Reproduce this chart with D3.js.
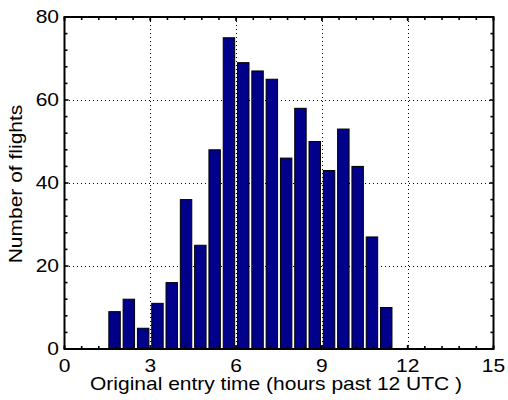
<!DOCTYPE html>
<html>
<head>
<meta charset="utf-8">
<script src="https://cdn.jsdelivr.net/npm/d3@7/dist/d3.min.js"></script>
<style>
  html, body { margin: 0; padding: 0; background: #fff; }
  svg { display: block; }
  text { font-family: "Liberation Sans", Arial, Helvetica, sans-serif; fill: #000; }
</style>
</head>
<body>
<svg id="chart" width="508" height="400"></svg>
<script>
// ---- data ----
const binCenters = [1.75, 2.25, 2.75, 3.25, 3.75, 4.25, 4.75, 5.25, 5.75, 6.25,
                    6.75, 7.25, 7.75, 8.25, 8.75, 9.25, 9.75, 10.25, 10.75, 11.25];
const counts = [9, 12, 5, 11, 16, 36, 25, 48, 75, 69,
                67, 65, 46, 58, 50, 43, 53, 44, 27, 10];
const xTicks = [0, 3, 6, 9, 12, 15];
const yTicks = [0, 20, 40, 60, 80];
const xLabel = "Original entry time (hours past 12 UTC )";
const yLabel = "Number of flights";

// ---- layout ----
const L = 64.5, R = 493.5, T = 17, B = 349;
const binWidth = 0.5, barFrac = 0.8;
const fs = 17.5, sx = 1.2;

const svg = d3.select("#chart");
const x = d3.scaleLinear().domain([0, 15]).range([L, R]);
const y = d3.scaleLinear().domain([0, 80]).range([B, T]);
const px = v => Math.round(v) + 0.5;

// grid
const grid = svg.append("g").attr("stroke", "#000").attr("stroke-width", 1)
  .attr("stroke-dasharray", "1,3").attr("fill", "none")
  .attr("shape-rendering", "crispEdges");
xTicks.slice(1, -1).forEach(t => {
  grid.append("line").attr("x1", px(x(t))).attr("x2", px(x(t))).attr("y1", T).attr("y2", B);
});
yTicks.slice(1, -1).forEach(t => {
  grid.append("line").attr("x1", L).attr("x2", R).attr("y1", px(y(t))).attr("y2", px(y(t)));
});

// bars
svg.append("g").selectAll("rect").data(binCenters).join("rect")
  .attr("x", (c) => x(c - binWidth * barFrac / 2))
  .attr("width", (c) => x(c + binWidth * barFrac / 2) - x(c - binWidth * barFrac / 2))
  .attr("y", (c, i) => y(counts[i]))
  .attr("height", (c, i) => y(0) - y(counts[i]))
  .attr("fill", "#00008b")
  .attr("stroke", "#000")
  .attr("stroke-width", 1);

// ticks (inward, all four sides)
const tk = svg.append("g").attr("stroke", "#000").attr("stroke-width", 1.6);
const minorX = d3.range(0, 15.001, 0.6);
const minorY = d3.range(0, 80.001, 4);
minorX.forEach(t => {
  tk.append("line").attr("x1", x(t)).attr("x2", x(t)).attr("y1", B).attr("y2", B - 3);
  tk.append("line").attr("x1", x(t)).attr("x2", x(t)).attr("y1", T).attr("y2", T + 3);
});
xTicks.forEach(t => {
  tk.append("line").attr("x1", x(t)).attr("x2", x(t)).attr("y1", B).attr("y2", B - 4);
  tk.append("line").attr("x1", x(t)).attr("x2", x(t)).attr("y1", T).attr("y2", T + 4);
});
minorY.forEach(t => {
  const len = yTicks.includes(t) ? 4 : 3;
  tk.append("line").attr("y1", y(t)).attr("y2", y(t)).attr("x1", L).attr("x2", L + len);
  tk.append("line").attr("y1", y(t)).attr("y2", y(t)).attr("x1", R).attr("x2", R - len);
});

// box
svg.append("rect").attr("x", L).attr("y", T).attr("width", R - L).attr("height", B - T)
  .attr("fill", "none").attr("stroke", "#000").attr("stroke-width", 2);

// tick labels
svg.append("g").selectAll("text").data(xTicks).join("text")
  .attr("transform", d => `translate(${x(d)},372) scale(${sx},1)`)
  .attr("text-anchor", "middle").attr("font-size", fs)
  .text(d => d);
svg.append("g").selectAll("text").data(yTicks).join("text")
  .attr("transform", d => `translate(59,${y(d)}) scale(${sx},1)`)
  .attr("text-anchor", "end").attr("dy", "0.36em").attr("font-size", fs)
  .text(d => d);

// axis labels
svg.append("text")
  .attr("transform", `translate(276,390) scale(${sx},1)`)
  .attr("text-anchor", "middle").attr("font-size", fs)
  .text(xLabel);
svg.append("text")
  .attr("transform", `translate(22,184) rotate(-90) scale(${sx},1)`)
  .attr("text-anchor", "middle").attr("font-size", fs)
  .text(yLabel);
</script>
</body>
</html>
